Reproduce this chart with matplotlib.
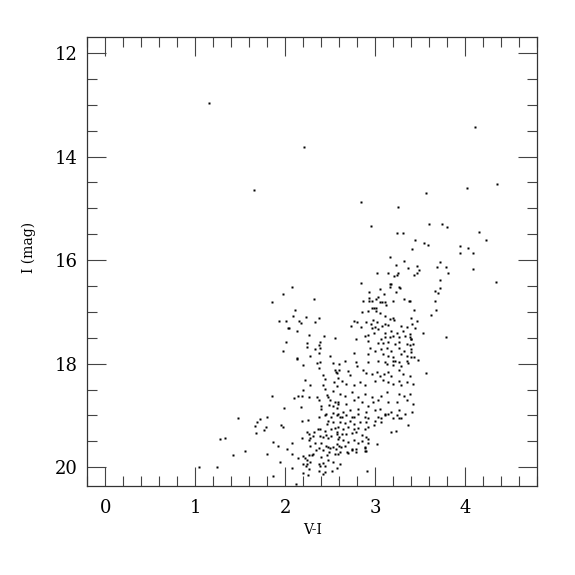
import numpy as np
import matplotlib.pyplot as plt

v_minus_i = [
    # bright / outliers
    1.15, 2.21, 4.11, 1.65, 4.36, 4.02, 3.56, 2.84, 3.25, 2.95, 3.24, 3.31, 3.60, 3.74, 3.80, 4.16,
    # red edge
    4.23, 3.44, 3.54, 3.59, 3.41, 3.94, 4.03, 3.94, 4.09, 3.72, 3.46, 3.69, 3.79, 4.09, 3.49, 3.47,
    3.81, 3.43, 3.72, 3.72, 3.67, 3.70, 3.67, 3.39, 3.43, 3.68, 3.62, 3.40, 3.47, 3.44, 3.53, 3.79,
    3.39, 3.40, 3.39, 3.40, 3.43, 3.48, 3.57, 4.34,
    # upper red branch
    3.17, 3.32, 3.23, 3.37, 3.02, 3.14, 3.25, 3.24, 3.21, 2.84, 3.16, 3.18, 3.16, 3.27, 3.28, 3.05,
    2.93, 3.23, 3.10, 3.03, 3.01, 2.93, 2.93, 2.86, 2.96, 3.32, 3.38, 3.05, 3.08, 3.11, 3.20, 3.12,
    2.97, 2.99, 3.01,
    # upper blue branch
    2.08, 1.98, 1.85, 2.32, 2.11, 2.09, 2.23, 2.38, 1.93, 2.01, 2.15, 2.18, 2.33, 2.03, 2.04, 2.13,
    2.26, 2.43, 2.55, 2.01, 2.39, 2.24, 2.24, 2.38, 2.39, 2.33, 1.97, 2.38, 2.27, 2.50, 2.13,
    # faint blue
    1.48, 1.72, 1.69, 1.66, 1.76, 1.67, 1.28, 1.33, 1.55, 1.42, 1.04, 1.24,
    1.80, 1.86, 1.94, 1.86, 1.92, 2.02, 2.07, 2.08, 2.07, 2.12, 2.14, 2.20, 2.22, 2.24, 2.20, 2.23,
    2.20, 2.25, 2.26, 2.26, 2.27, 2.31, 2.34, 2.38, 2.37, 2.39, 2.42, 2.44, 2.38, 2.44, 2.52, 2.61,
    2.91, 3.02, 2.89, 2.89, 2.92, 2.85, 2.79, 2.74, 2.69,
    # middle blue
    2.13, 2.39, 2.20, 2.35, 2.37, 2.53, 2.60, 2.55, 2.57, 2.42, 2.22, 2.44, 2.59, 2.54, 2.27, 2.42,
    2.20, 2.57, 1.85, 2.10, 2.14, 2.19, 2.26, 2.44, 2.53, 2.35, 2.46, 2.48, 2.38, 2.50, 2.55, 2.40,
    2.49, 2.53, 2.59, 1.99, 2.18, 2.40, 2.58, 2.45, 2.53, 2.59, 1.80, 2.38, 2.51,
    # lower blue
    1.79, 1.95, 1.97, 2.19, 2.25, 2.44, 2.48, 2.53, 2.46, 2.39, 2.51, 2.24, 2.32, 2.36, 2.27, 2.19,
    2.44, 2.55, 2.26, 2.31, 2.39, 2.42, 2.45, 2.48, 2.51, 2.58, 2.60, 2.33, 2.40, 2.45, 2.48, 2.50,
    2.53, 2.56, 2.60, 2.42, 2.49, 2.55, 2.59, 2.26, 2.30, 2.24, 2.27, 2.40, 2.46, 2.48, 2.53, 2.57,
    2.42,
    # red branch, 17-18
    2.85, 2.92, 3.01, 3.05, 3.11, 3.20, 3.16, 3.21, 2.77, 2.80, 2.90, 2.98, 3.02, 2.95, 2.73, 2.84,
    2.97, 3.00, 3.03, 3.08, 3.11, 3.14, 3.29, 3.35, 3.41, 2.89, 2.92, 2.99, 3.11, 3.18, 3.24, 3.31,
    3.39, 2.79, 2.92, 3.06, 3.11, 3.16, 3.20, 3.27, 3.33, 3.40, 3.03, 3.09, 3.14, 3.22, 3.27, 3.35,
    3.42, 2.94, 3.00, 3.07, 3.13, 3.18, 3.26, 3.32, 3.40, 2.77, 2.92, 3.09, 3.14, 3.20, 3.29, 3.35,
    3.40, 2.66, 2.79, 3.03, 3.11, 3.20, 3.27, 3.35,
    # red branch, 18-19
    2.80, 2.92, 3.13, 3.20, 3.22, 3.29, 3.36, 2.56, 2.60, 2.70, 2.72, 2.87, 2.90, 2.96, 3.02, 3.05,
    3.10, 3.14, 3.18, 3.26, 3.31, 3.39, 2.63, 2.68, 2.76, 2.83, 2.89, 3.00, 3.09, 3.14, 3.20, 3.26,
    3.29, 3.35, 3.42, 2.61, 2.66, 2.74, 2.81, 2.89, 2.96, 3.07, 3.13, 3.26, 3.32, 3.39, 2.59, 2.68,
    2.76, 2.85, 2.92, 2.98, 3.03, 3.14, 3.24, 3.35, 3.42, 2.64, 2.72, 2.81, 2.90, 3.00, 3.05, 3.11,
    3.18, 3.26, 3.33, 3.41, 2.61, 2.77, 2.92, 3.07, 3.20, 3.29,
    # red clump / base 19-20
    2.57, 2.63, 2.68, 2.74, 2.81, 2.89, 3.03, 3.11, 3.14, 3.24, 3.26, 2.61, 2.66, 2.72, 2.77, 2.83,
    2.90, 3.00, 3.07, 2.59, 2.64, 2.70, 2.76, 2.81, 2.89, 2.92, 2.99, 2.57, 2.63, 2.68, 2.74, 2.79,
    2.85, 2.90, 2.92, 2.59, 2.64, 2.70, 2.76, 2.81, 2.58, 2.62, 2.66, 2.74, 2.79, 2.89, 2.90, 2.61,
    2.70, 3.18, 3.23, 3.37,
]

i_mag = [
    12.97, 13.81, 13.43, 14.65, 14.54, 14.61, 14.70, 14.87, 14.97, 15.35, 15.47, 15.47, 15.31, 15.31, 15.36, 15.45,
    15.62, 15.62, 15.67, 15.71, 15.79, 15.73, 15.76, 15.86, 15.86, 16.03, 16.12, 16.13, 16.13, 16.17, 16.20, 16.24,
    16.25, 16.29, 16.38, 16.54, 16.60, 16.63, 16.78, 16.79, 16.97, 16.96, 17.06, 17.12, 17.17, 17.31, 17.40, 17.49,
    17.49, 17.53, 17.63, 17.87, 17.88, 17.93, 18.18, 16.43,
    15.94, 16.01, 16.10, 16.15, 16.25, 16.25, 16.24, 16.29, 16.31, 16.45, 16.46, 16.46, 16.51, 16.51, 16.54, 16.56,
    16.62, 16.62, 16.66, 16.72, 16.75, 16.74, 16.78, 16.78, 16.78, 16.75, 16.79, 16.80, 16.80, 16.80, 16.79, 16.87,
    16.92, 16.92, 16.92,
    16.52, 16.65, 16.80, 16.76, 16.97, 17.08, 17.10, 17.11, 17.17, 17.18, 17.18, 17.21, 17.19, 17.32, 17.32, 17.36,
    17.45, 17.47, 17.51, 17.58, 17.58, 17.60, 17.67, 17.63, 17.70, 17.72, 17.76, 17.80, 17.85, 17.86, 17.89,
    19.04, 19.06, 19.13, 19.20, 19.28, 19.34, 19.45, 19.44, 19.68, 19.76, 19.99, 19.99,
    19.74, 20.17, 19.90, 19.51, 19.58, 19.65, 19.75, 19.54, 20.01, 20.33, 19.83, 19.79, 19.82, 19.86, 19.94, 19.98,
    20.11, 20.15, 20.04, 19.48, 19.58, 19.74, 19.67, 19.63, 19.94, 19.98, 19.92, 19.97, 20.07, 20.09, 20.07, 19.93,
    20.07, 19.56, 19.63, 19.69, 19.53, 19.50, 19.64, 19.67, 19.70,
    17.91, 17.96, 18.02, 17.99, 18.08, 17.99, 18.01, 18.12, 18.18, 18.21, 18.31, 18.29, 18.27, 18.36, 18.42, 18.42,
    18.50, 18.44, 18.63, 18.66, 18.62, 18.62, 18.65, 18.49, 18.52, 18.65, 18.60, 18.65, 18.71, 18.71, 18.74, 18.82,
    18.79, 18.81, 18.78, 18.86, 18.83, 18.87, 18.86, 18.97, 18.95, 18.97, 19.02, 19.03, 19.02,
    19.22, 19.19, 19.22, 19.10, 19.08, 19.00, 19.10, 19.13, 19.16, 19.26, 19.26, 19.32, 19.32, 19.27, 19.43, 19.43,
    19.29, 19.24, 19.36, 19.40, 19.40, 19.42, 19.38, 19.43, 19.40, 19.35, 19.42, 19.53, 19.53, 19.58, 19.61, 19.62,
    19.60, 19.64, 19.58, 19.67, 19.70, 19.74, 19.74, 19.77, 19.77, 19.93, 19.90, 19.80, 19.77, 19.86, 19.90, 20.02,
    20.12,
    17.01, 16.99, 16.98, 17.03, 17.08, 17.11, 17.14, 17.16, 17.17, 17.20, 17.20, 17.16, 17.20, 17.24, 17.27, 17.30,
    17.31, 17.30, 17.33, 17.27, 17.24, 17.25, 17.27, 17.29, 17.24, 17.46, 17.44, 17.40, 17.40, 17.36, 17.40, 17.36,
    17.43, 17.52, 17.56, 17.52, 17.49, 17.49, 17.46, 17.49, 17.46, 17.52, 17.61, 17.61, 17.59, 17.62, 17.59, 17.62,
    17.62, 17.69, 17.75, 17.72, 17.69, 17.75, 17.69, 17.75, 17.72, 17.80, 17.81, 17.81, 17.85, 17.88, 17.81, 17.85,
    17.78, 17.95, 17.97, 17.94, 17.97, 17.95, 17.97, 17.94,
    18.05, 17.96, 18.01, 18.03, 17.94, 18.04, 17.99, 18.17, 18.13, 18.15, 18.22, 18.13, 18.18, 18.20, 18.17, 18.23,
    18.20, 18.17, 18.23, 18.13, 18.20, 18.23, 18.33, 18.39, 18.41, 18.36, 18.42, 18.33, 18.31, 18.36, 18.39, 18.33,
    18.42, 18.36, 18.39, 18.58, 18.62, 18.55, 18.65, 18.58, 18.65, 18.62, 18.55, 18.58, 18.63, 18.58, 18.73, 18.78,
    18.71, 18.74, 18.81, 18.74, 18.71, 18.74, 18.73, 18.71, 18.78, 18.94, 18.90, 18.87, 18.94, 18.90, 18.87, 18.97,
    18.94, 18.90, 18.97, 18.94, 19.03, 19.03, 19.05, 19.05, 19.05, 19.05,
    19.00, 19.03, 19.00, 19.03, 18.98, 19.02, 19.03, 19.00, 18.98, 19.00, 19.04, 19.13, 19.15, 19.11, 19.16, 19.13,
    19.13, 19.10, 19.13, 19.22, 19.26, 19.22, 19.26, 19.24, 19.26, 19.22, 19.19, 19.32, 19.35, 19.36, 19.34, 19.32,
    19.38, 19.42, 19.45, 19.45, 19.48, 19.51, 19.48, 19.53, 19.56, 19.61, 19.58, 19.64, 19.70, 19.61, 19.68, 19.70,
    19.72, 19.32, 19.29, 19.19,
]

plt.rcParams['font.family'] = ['DejaVu Serif']

fig = plt.figure(figsize=(5.75, 5.75), dpi=100)
ax = fig.add_axes([0.152, 0.154, 0.782, 0.781])

ax.plot(v_minus_i, i_mag, 's', ms=1.5, color='k', mec='none')

ax.set_xlim(-0.2, 4.8)
ax.set_ylim(20.37, 11.7)
ax.set_xticks(np.arange(0, 5, 1))
ax.set_xticks(np.arange(-0.2, 4.81, 0.2), minor=True)
ax.set_yticks(np.arange(12, 21, 2))
ax.set_yticks(np.arange(12, 20.4, 0.5), minor=True)

ax.tick_params(which='both', direction='in', top=True, right=True, width=0.8, color='#444444')
ax.tick_params(which='major', length=13.5, labelsize=13)
ax.tick_params(which='minor', length=7)
ax.tick_params(axis='x', which='major', pad=9)
ax.tick_params(axis='y', which='major', pad=7)
for sp in ax.spines.values():
    sp.set_linewidth(0.9)
    sp.set_color('#333333')

ax.set_xlabel('V-I', fontsize=10, labelpad=4)
ax.set_ylabel('I (mag)', fontsize=10)
ax.yaxis.set_label_coords(-0.115, 0.533)

fig.savefig('out.png', dpi=100)
